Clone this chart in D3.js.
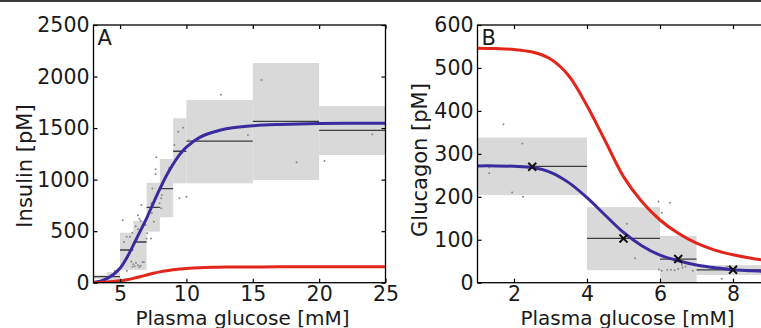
<!DOCTYPE html>
<html>
<head>
<meta charset="utf-8">
<script src="https://cdn.jsdelivr.net/npm/d3@7"></script>
<style>
  body { margin: 0; background: #fff; }
  svg { display: block; }
  text { font-family: "DejaVu Sans", sans-serif; fill: #1a1a1a; }
</style>
</head>
<body>
<div id="chart"></div>
<script>
// Panel A - insulin bins (glucose mM) and spread / median (pM)
var insBinStart = [3, 4, 5, 6, 7, 8, 9, 10, 15, 20];
var insBinEnd = [4, 5, 6, 7, 8, 9, 10, 15, 20, 25];
var insLow = [38, 8, 125, 125, 495, 635, 964, 964, 996, 1239];
var insHigh = [75, 104, 485, 600, 970, 1200, 1595, 1772, 2131, 1714];
var insMedian = [58, 58, 317, 395, 731, 912, 1275, 1374, 1565, 1478];

// Panel A - raw samples
var insPtX = [3.7, 4.35, 4.6, 5.2, 5.5, 5.75, 5.93, 6.18, 6.35, 6.6, 6.45, 6.55, 6.2, 7.0, 7.05, 7.33,
  7.43, 7.35, 7.98, 8.1, 7.55, 7.4, 6.93, 8.1, 8.15, 9.48, 10.0, 5.52, 5.85, 6.0, 6.2, 6.35, 6.55, 6.7,
  5.95, 6.1, 6.45, 6.8, 7.73, 7.68, 7.68, 8.7, 12.6, 9.75, 9.38, 9.1, 10.18, 14.63, 15.65, 18.3, 20.4,
  24.0, 6.35, 5.3];
var insPtY = [30, 75, 117, 605, 446, 446, 485, 547, 654, 754, 620, 600, 408, 430, 479, 430,
  915, 770, 770, 722, 592, 675, 560, 820, 850, 819, 834, 117, 205, 180, 190, 170, 165, 200,
  155, 160, 150, 198, 1216, 1100, 1055, 1113, 1824, 1504, 1465, 1336, 1381, 1433, 1966, 1168, 1181,
  1440, 518, 395];

// Panel A - model curves
var insCurveX = [3, 3.5, 4, 4.5, 5, 5.5, 6, 6.5, 7, 7.5, 8, 8.5, 9, 9.5, 10, 11, 12, 13, 15, 17, 20, 25];
var insBlue = [3, 15, 40, 80, 140, 240, 365, 495, 625, 770, 910, 1040, 1150, 1245, 1315, 1410, 1460, 1493, 1522, 1535, 1545, 1548];
var insRed = [2, 3, 6, 11, 18, 29, 42, 58, 75, 91, 105, 116, 125, 132, 138, 146, 150, 152, 153, 154, 154, 154];

// Panel B - glucagon bins and spread / median (pM)
var glcBinStart = [1, 4, 6, 7];
var glcBinEnd = [4, 6, 7, 9];
var glcLow = [204, 29, 0, 18];
var glcHigh = [338, 176, 109, 41];
var glcMedian = [271, 103, 55, 30];
var glcMarkX = [2.5, 5, 6.5, 8];
var glcMarkY = [270, 103, 55, 30];

// Panel B - raw samples
var glcPtX = [1.71, 2.23, 1.32, 1.32, 1.95, 2.25, 5.09, 5.32, 5.96, 6.27, 6.05, 5.97, 6.05, 6.2, 6.3,
  6.4, 6.5, 6.6, 6.62, 6.7, 6.9, 7.28, 7.69, 7.83];
var glcPtY = [369, 324, 268, 255, 210, 200, 137, 57, 189, 186, 163, 31, 28, 30, 30, 29, 32, 41, 35, 38, 28, 37, 9, 37];

// Panel B - model curves
var glcCurveX = [1, 1.5, 2, 2.5, 3, 3.5, 4, 4.5, 5, 5.5, 6, 6.5, 7, 7.5, 8, 8.5, 9];
var glcBlue = [272, 272, 271, 268, 257, 233, 198, 157, 117, 86, 64, 51, 41, 35, 30, 28, 26];
var glcRed = [546, 545, 543, 537, 521, 482, 412, 330, 247, 189, 146, 115, 92, 76, 65, 57, 51];

var svgWidth = 761;
var svgHeight = 328;

var svg = d3.select("#chart")
  .append("svg")
  .attr("width", svgWidth)
  .attr("height", svgHeight);

// thin rule along the top of the figure
svg.append("rect")
  .attr("x", 0).attr("y", 0)
  .attr("width", svgWidth).attr("height", 2)
  .attr("fill", "#3a3a3a");

var plotTop = 25;
var plotBottom = 282.7;

function drawPanel(p) {
  var x = d3.scaleLinear().domain(p.xDomain).range([p.left, p.left + 292]);
  var y = d3.scaleLinear().domain(p.yDomain).range([plotBottom, plotTop]);
  var g = svg.append("g");

  var clipId = "clip" + p.letter;
  g.append("clipPath").attr("id", clipId)
    .append("rect")
    .attr("x", p.left).attr("y", plotTop)
    .attr("width", 292).attr("height", plotBottom - plotTop);

  var inner = g.append("g").attr("clip-path", "url(#" + clipId + ")");

  // grey spread boxes
  inner.selectAll("rect.box")
    .data(p.binStart)
    .enter()
    .append("rect")
    .attr("class", "box")
    .attr("x", (d, i) => x(d))
    .attr("width", (d, i) => x(p.binEnd[i]) - x(d))
    .attr("y", (d, i) => y(p.high[i]))
    .attr("height", (d, i) => y(p.low[i]) - y(p.high[i]))
    .attr("fill", "#d9d9d9");

  // median lines
  inner.selectAll("line.med")
    .data(p.binStart)
    .enter()
    .append("line")
    .attr("x1", (d, i) => x(d))
    .attr("x2", (d, i) => x(p.binEnd[i]))
    .attr("y1", (d, i) => y(p.median[i]))
    .attr("y2", (d, i) => y(p.median[i]))
    .attr("stroke", "#3d3d3d")
    .attr("stroke-width", 1.3);

  // samples
  inner.selectAll("circle.pt")
    .data(p.ptX)
    .enter()
    .append("circle")
    .attr("cx", (d, i) => x(d))
    .attr("cy", (d, i) => y(p.ptY[i]))
    .attr("r", 1)
    .attr("fill", "#8a8a8a");

  var line = d3.line()
    .x(d => x(d[0]))
    .y(d => y(d[1]))
    .curve(d3.curveCatmullRom.alpha(0.5));

  inner.append("path")
    .datum(p.curveX.map((v, i) => [v, p.blue[i]]))
    .attr("d", line)
    .attr("fill", "none")
    .attr("stroke", "#3a2b9e")
    .attr("stroke-width", 3);

  inner.append("path")
    .datum(p.curveX.map((v, i) => [v, p.red[i]]))
    .attr("d", line)
    .attr("fill", "none")
    .attr("stroke", "#e2261b")
    .attr("stroke-width", 3);

  if (p.markX) {
    var s = 4;
    p.markX.forEach(function(mx, i) {
      var cx = x(mx), cy = y(p.markY[i]);
      inner.append("path")
        .attr("d", `M${cx - s},${cy - s}L${cx + s},${cy + s}M${cx - s},${cy + s}L${cx + s},${cy - s}`)
        .attr("stroke", "#111")
        .attr("stroke-width", 2);
    });
  }

  // axes, ticks pointing inward on all four sides
  var fmt = d3.format("d");
  var bottomAxis = d3.axisBottom(x).tickValues(p.xTicks).tickFormat(fmt).tickSize(-4).tickPadding(4).tickSizeOuter(0);
  var topAxis = d3.axisTop(x).tickValues(p.xTicks).tickSize(-4).tickFormat("").tickSizeOuter(0);
  var leftAxis = d3.axisLeft(y).tickValues(p.yTicks).tickFormat(fmt).tickSize(-4).tickPadding(4).tickSizeOuter(0);
  var rightAxis = d3.axisRight(y).tickValues(p.yTicks).tickSize(-4).tickFormat("").tickSizeOuter(0);

  var axes = [
    g.append("g").attr("transform", `translate(0, ${plotBottom})`).call(bottomAxis),
    g.append("g").attr("transform", `translate(0, ${plotTop})`).call(topAxis),
    g.append("g").attr("transform", `translate(${p.left}, 0)`).call(leftAxis),
    g.append("g").attr("transform", `translate(${p.left + 292}, 0)`).call(rightAxis)
  ];
  axes.forEach(function(a) {
    a.select(".domain").remove();
    a.selectAll("line").attr("stroke", "#000").attr("stroke-width", 1.2);
    a.selectAll("text").style("font-size", "20.5px").attr("fill", "#1a1a1a");
  });

  // frame
  g.append("rect")
    .attr("x", p.left).attr("y", plotTop)
    .attr("width", 292).attr("height", plotBottom - plotTop)
    .attr("fill", "none")
    .attr("stroke", "#000")
    .attr("stroke-width", 1.3);

  // panel letter
  g.append("text")
    .attr("x", p.left + 4)
    .attr("y", plotTop + 20)
    .style("font-size", "21px")
    .text(p.letter);

  // axis labels
  g.append("text")
    .attr("x", p.left + p.xLabelShift)
    .attr("y", 324.5)
    .attr("text-anchor", "middle")
    .style("font-size", "20px")
    .text("Plasma glucose [mM]");

  g.append("text")
    .attr("transform", `translate(${p.yLabelX}, ${p.yLabelY}) rotate(-90)`)
    .attr("text-anchor", "middle")
    .style("font-size", "21px")
    .text(p.yLabel);
}

drawPanel({
  letter: "A", left: 93.5,
  xDomain: [3, 25], yDomain: [0, 2500],
  xTicks: [5, 10, 15, 20, 25], yTicks: [0, 500, 1000, 1500, 2000, 2500],
  binStart: insBinStart, binEnd: insBinEnd, low: insLow, high: insHigh, median: insMedian,
  ptX: insPtX, ptY: insPtY,
  curveX: insCurveX, blue: insBlue, red: insRed,
  xLabelShift: 149, yLabel: "Insulin [pM]", yLabelX: 32, yLabelY: 166
});

drawPanel({
  letter: "B", left: 477.5,
  xDomain: [1, 9], yDomain: [0, 600],
  xTicks: [2, 4, 6, 8], yTicks: [0, 100, 200, 300, 400, 500, 600],
  binStart: glcBinStart, binEnd: glcBinEnd, low: glcLow, high: glcHigh, median: glcMedian,
  ptX: glcPtX, ptY: glcPtY,
  curveX: glcCurveX, blue: glcBlue, red: glcRed,
  markX: glcMarkX, markY: glcMarkY,
  xLabelShift: 150, yLabel: "Glucagon [pM]", yLabelX: 427, yLabelY: 160
});
</script>
</body>
</html>
